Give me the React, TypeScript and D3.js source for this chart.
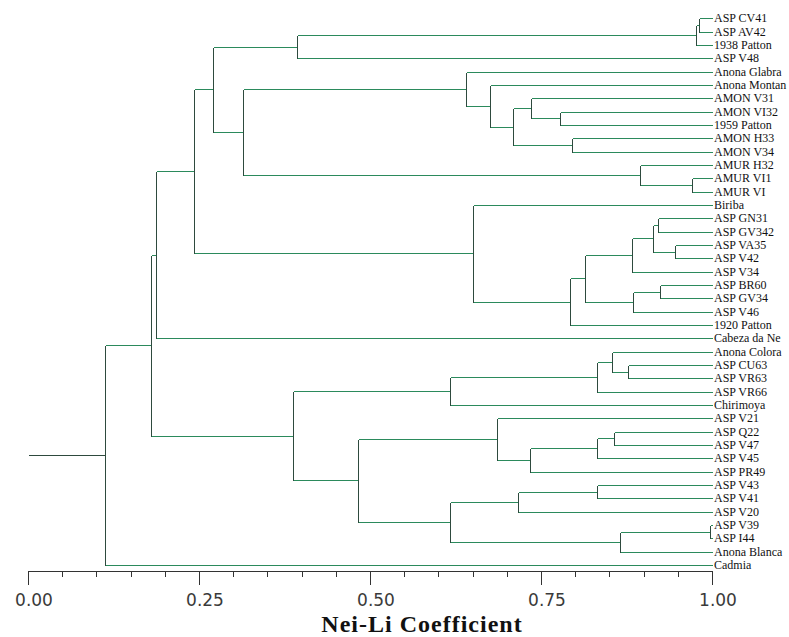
import React from "react";
import * as d3 from "d3";

// leaves, top to bottom
const leafNames = [
  "ASP CV41", "ASP AV42", "1938 Patton", "ASP V48", "Anona Glabra", "Anona Montan",
  "AMON V31", "AMON VI32", "1959 Patton", "AMON H33", "AMON V34", "AMUR H32",
  "AMUR VI1", "AMUR VI", "Biriba", "ASP GN31", "ASP GV342", "ASP VA35", "ASP V42",
  "ASP V34", "ASP BR60", "ASP GV34", "ASP V46", "1920 Patton", "Cabeza da Ne",
  "Anona Colora", "ASP CU63", "ASP VR63", "ASP VR66", "Chirimoya", "ASP V21",
  "ASP Q22", "ASP V47", "ASP V45", "ASP PR49", "ASP V43", "ASP V41", "ASP V20",
  "ASP V39", "ASP I44", "Anona Blanca", "Cadmia",
];

// merge table, hclust style: negative = leaf (1-based), positive = earlier merge row (1-based)
const mergeLeft = [
  -1, 1, 2, -8, -7, -10, 5, -6, -5, -13, -12, 9, 3, -16, -18, 14, 16, -21, 18, 17,
  20, -15, 13, 23, -27, -26, 26, 27, -32, 29, 30, -31, -36, 33, -39, 35, 34, 32, 28, 24, 40,
];
const mergeRight = [
  -2, -3, -4, -9, 4, -11, 6, 7, 8, -14, 10, 11, 12, -17, -19, 15, -20, -22, -23, 19,
  -24, 21, 22, -25, -28, 25, -29, -30, -33, -34, -35, 31, -37, -38, -40, -41, 36, 37, 38, 39, -42,
];
// Nei-Li similarity at which each merge happens
const mergeSim = [
  0.981, 0.976, 0.393, 0.778, 0.735, 0.795, 0.709, 0.675, 0.64, 0.971, 0.895, 0.314,
  0.27, 0.921, 0.946, 0.914, 0.883, 0.924, 0.884, 0.814, 0.792, 0.651, 0.243, 0.187,
  0.877, 0.854, 0.832, 0.617, 0.857, 0.832, 0.734, 0.686, 0.832, 0.716, 0.997, 0.865,
  0.617, 0.482, 0.387, 0.18, 0.113,
];

const axisTicks = d3.range(0, 21).map(i => i * 0.05);
const axisTitle = "Nei-Li Coefficient";

type TreeNode = { name: string; sim: number; children?: TreeNode[] };

function buildTree(): TreeNode {
  const leaves: TreeNode[] = leafNames.map(name => ({ name, sim: 1 }));
  const merged: TreeNode[] = [];
  const pick = (k: number) => (k < 0 ? leaves[-k - 1] : merged[k - 1]);
  mergeSim.forEach((s, i) => {
    merged.push({ name: "", sim: s, children: [pick(mergeLeft[i]), pick(mergeRight[i])] });
  });
  return merged[merged.length - 1];
}

const HCOL = "#2b8a5c";
const VCOL = "#2e4a3e";

export default function App() {
  const width = 789;
  const height = 637;
  const axisY = 571;

  const x = d3.scaleLinear().domain([0, 1]).range([28, 712]);
  const yLeaf = d3.scalePoint<string>().domain(leafNames).range([18.4, 565]);

  const root = d3.hierarchy(buildTree());
  const ypos = new Map<any, number>();
  root.eachAfter(n => {
    const v = n.children
      ? (ypos.get(n.children[0])! + ypos.get(n.children[n.children.length - 1])!) / 2
      : yLeaf(n.data.name)!;
    ypos.set(n, v);
  });

  const px = (v: number) => Math.round(v) + 0.5;
  const segs: JSX.Element[] = [];
  let k = 0;
  root.each(n => {
    const nx = x(n.data.sim);
    if (n.children) {
      const c0 = ypos.get(n.children[0])!;
      const c1 = ypos.get(n.children[n.children.length - 1])!;
      segs.push(
        <line key={k++} x1={px(nx)} x2={px(nx)} y1={px(c0)} y2={px(c1)} stroke={VCOL} />
      );
      n.children.forEach(c => {
        const cy = ypos.get(c)!;
        segs.push(
          <line key={k++} x1={px(nx)} x2={px(x(c.data.sim))} y1={px(cy)} y2={px(cy)} stroke={HCOL} />
        );
      });
    }
  });
  // stub from 0.00 to the root
  const rootY = ypos.get(root)!;
  segs.push(
    <line key={k++} x1={px(x(0))} x2={px(x(root.data.sim))} y1={px(rootY)} y2={px(rootY)} stroke={VCOL} />
  );

  const fmt = d3.format(".2f");

  return (
    <svg
      width={width}
      height={height}
      style={{ position: "absolute", left: 0, top: 0, background: "#fff" }}
      shapeRendering="crispEdges"
    >
      <rect width={width} height={height} fill="#fff" />
      <g strokeWidth={1}>{segs}</g>

      <g fontFamily="'Liberation Serif', 'Times New Roman', serif" fontSize={12} fill="#111">
        {root.leaves().map(l => (
          <text key={l.data.name} x={714} y={ypos.get(l)! + 4}>
            {l.data.name}
          </text>
        ))}
      </g>

      <g stroke="#333">
        <line x1={px(x(0))} x2={px(x(1))} y1={axisY + 0.5} y2={axisY + 0.5} />
        {axisTicks.map((t, i) => (
          <line
            key={i}
            x1={px(x(t))}
            x2={px(x(t))}
            y1={axisY}
            y2={axisY + (i % 5 === 0 ? 14 : 6)}
          />
        ))}
      </g>
      <g fontFamily="'DejaVu Sans', Tahoma, sans-serif" fontSize={17} fill="#3a3a3a" textAnchor="middle">
        {axisTicks
          .filter((_, i) => i % 5 === 0)
          .map(t => (
            <text key={t} x={x(t) + 6} y={606}>
              {fmt(t)}
            </text>
          ))}
      </g>
      <text
        x={422}
        y={632}
        textAnchor="middle"
        fontFamily="'Liberation Serif', 'Times New Roman', serif"
        fontWeight="bold"
        fontSize={24}
        letterSpacing={1}
        fill="#111"
      >
        {axisTitle}
      </text>
    </svg>
  );
}
